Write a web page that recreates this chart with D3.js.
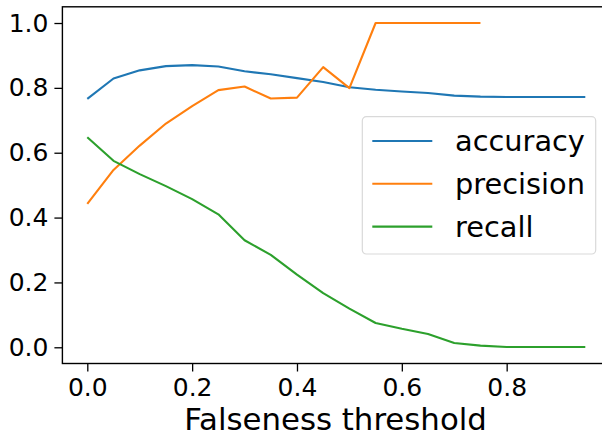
<!DOCTYPE html>
<html>
<head>
  <meta charset="utf-8">
  <title>Falseness threshold</title>
  <script src="https://cdn.jsdelivr.net/npm/d3@7/dist/d3.min.js"></script>
  <style>
    body { margin: 0; background: #fff; }
    svg { font-family: "DejaVu Sans", sans-serif; }
    .tick text { font-family: "DejaVu Sans", sans-serif; font-size: 25px; fill: #000; }
    .tick line { stroke: #000; stroke-width: 1.3; }
    .axis-label { font-size: 30.8px; text-anchor: middle; }
    .legend-text { font-size: 28.8px; }
  </style>
</head>
<body>
  <script>
    var thresholds = [0.0, 0.05, 0.1, 0.15, 0.2, 0.25, 0.3, 0.35, 0.4, 0.45,
                      0.5, 0.55, 0.6, 0.65, 0.7, 0.75, 0.8, 0.85, 0.9, 0.95];
    var accuracy = [0.766, 0.829, 0.854, 0.867, 0.870, 0.866, 0.851, 0.842, 0.830, 0.818,
                    0.802, 0.794, 0.789, 0.784, 0.776, 0.773, 0.772, 0.772, 0.772, 0.772];
    var precision = [0.442, 0.547, 0.622, 0.690, 0.744, 0.793, 0.804, 0.767, 0.770, 0.864,
                     0.799, 1.0, 1.0, 1.0, 1.0, 1.0];
    var recall = [0.648, 0.575, 0.534, 0.497, 0.457, 0.410, 0.330, 0.285, 0.224, 0.167,
                  0.119, 0.075, 0.057, 0.041, 0.013, 0.005, 0.001, 0.001, 0.001, 0.001];
    var xTicks = [0.0, 0.2, 0.4, 0.6, 0.8];
    var yTicks = [0.0, 0.2, 0.4, 0.6, 0.8, 1.0];

    var series = [
      { name: "accuracy", values: accuracy, color: "#1f77b4" },
      { name: "precision", values: precision, color: "#ff7f0e" },
      { name: "recall", values: recall, color: "#2ca02c" }
    ];

    var width = 602, height = 437;
    var plotLeft = 62.4, plotRight = 610.2, plotTop = 6.8, plotBottom = 363.5;

    var x = d3.scaleLinear().domain([-0.0475, 0.9975]).range([plotLeft, plotRight]);
    var y = d3.scaleLinear().domain([-0.05, 1.05]).range([plotBottom, plotTop]);

    var svg = d3.select("body").append("svg")
        .attr("width", width)
        .attr("height", height);

    // lines
    var line = d3.line()
        .x(function(d, i) { return x(thresholds[i]); })
        .y(function(d) { return y(d); });

    svg.selectAll(".series")
        .data(series)
      .enter().append("path")
        .attr("class", "series")
        .attr("fill", "none")
        .attr("stroke", d => d.color)
        .attr("stroke-width", 2.1)
        .attr("stroke-linejoin", "round")
        .attr("d", d => line(d.values));

    // axes
    var xAxis = d3.axisBottom(x)
        .tickValues(xTicks)
        .tickFormat(d3.format(".1f"))
        .tickSize(8)
        .tickPadding(6.5)
        .tickSizeOuter(0);
    var yAxis = d3.axisLeft(y)
        .tickValues(yTicks)
        .tickFormat(d3.format(".1f"))
        .tickSize(8)
        .tickPadding(6)
        .tickSizeOuter(0);

    var gx = svg.append("g")
        .attr("transform", "translate(0," + plotBottom + ")")
        .call(xAxis);
    gx.select(".domain").remove();

    var gy = svg.append("g")
        .attr("transform", "translate(" + plotLeft + ",0)")
        .call(yAxis);
    gy.select(".domain").remove();

    // frame (right spine lies outside the picture)
    svg.append("rect")
        .attr("x", plotLeft)
        .attr("y", plotTop)
        .attr("width", plotRight - plotLeft)
        .attr("height", plotBottom - plotTop)
        .attr("fill", "none")
        .attr("stroke", "#000")
        .attr("stroke-width", 1.4);

    // x label
    svg.append("text")
        .attr("class", "axis-label")
        .attr("x", 335.5)
        .attr("y", 430)
        .text("Falseness threshold");

    // legend
    var legend = svg.append("g").attr("transform", "translate(362.3,116.7)");
    legend.append("rect")
        .attr("width", 233.4)
        .attr("height", 137.3)
        .attr("rx", 4)
        .attr("fill", "#fff")
        .attr("fill-opacity", 0.8)
        .attr("stroke", "#d9d9d9")
        .attr("stroke-width", 1.2);

    var items = legend.selectAll(".item")
        .data(series)
      .enter().append("g")
        .attr("class", "item")
        .attr("transform", (d, i) => "translate(0," + (24.3 + i * 42.8) + ")");

    items.append("line")
        .attr("x1", 10)
        .attr("x2", 70)
        .attr("stroke", d => d.color)
        .attr("stroke-width", 2.1);

    items.append("text")
        .attr("class", "legend-text")
        .attr("x", 92.7)
        .attr("y", 10)
        .text(d => d.name);
  </script>
</body>
</html>
